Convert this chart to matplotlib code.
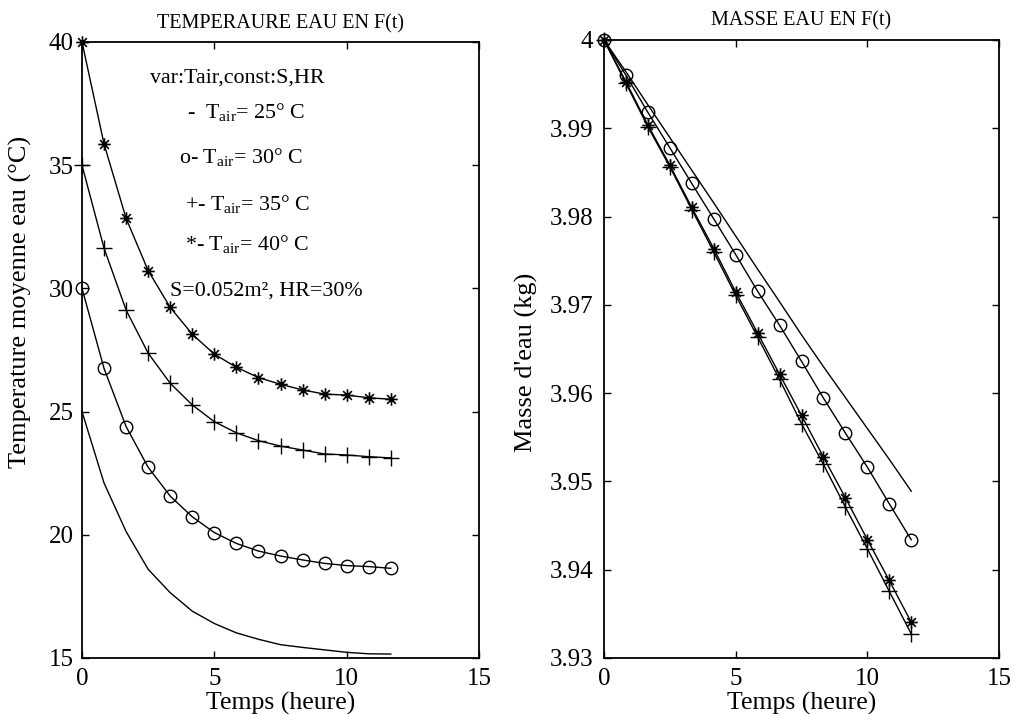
import matplotlib
matplotlib.use("Agg")
import matplotlib.pyplot as plt
from matplotlib.path import Path
from matplotlib.ticker import FuncFormatter

# ---------------- data ----------------
t_hours = [0.0, 0.833, 1.667, 2.5, 3.333, 4.167, 5.0, 5.833, 6.667, 7.5,
           8.333, 9.167, 10.0, 10.833, 11.667]

temp_25 = [25.0, 22.1, 20.13, 18.6, 17.65, 16.9, 16.4, 16.02, 15.76, 15.54,
           15.43, 15.33, 15.23, 15.17, 15.16]
temp_30 = [30.0, 26.75, 24.39, 22.74, 21.57, 20.73, 20.09, 19.65, 19.34, 19.14,
           18.98, 18.84, 18.75, 18.71, 18.64]
temp_35 = [35.0, 31.63, 29.12, 27.37, 26.15, 25.27, 24.59, 24.14, 23.82, 23.60,
           23.44, 23.28, 23.24, 23.17, 23.12]
temp_40 = [40.0, 35.86, 32.84, 30.72, 29.23, 28.14, 27.33, 26.80, 26.38, 26.11,
           25.88, 25.71, 25.67, 25.56, 25.50]

mass_25 = [4.0, 3.9964, 3.99265, 3.98895, 3.98525, 3.98155, 3.9778, 3.97405,
           3.97035, 3.9666, 3.963, 3.9595, 3.956, 3.9525, 3.9489]
mass_30 = [4.0, 3.9960, 3.9918, 3.98779, 3.98375, 3.97974, 3.9757, 3.97154,
           3.96769, 3.96361, 3.95944, 3.95548, 3.95162, 3.94747, 3.94339]
mass_35 = [4.0, 3.99509, 3.99017, 3.98564, 3.9808, 3.976, 3.97109, 3.96636,
           3.96156, 3.95654, 3.95193, 3.94709, 3.94237, 3.93756, 3.93273]
mass_40 = [4.0, 3.99527, 3.99036, 3.98583, 3.98103, 3.97638, 3.97147, 3.96681,
           3.96213, 3.95748, 3.95276, 3.94815, 3.94342, 3.93878, 3.93405]

x_ticks = [0, 5, 10, 15]
temp_ticks = [15, 20, 25, 30, 35, 40]
mass_ticks = [3.93, 3.94, 3.95, 3.96, 3.97, 3.98, 3.99, 4.0]

title_left = "TEMPERAURE EAU EN F(t)"
title_right = "MASSE EAU EN F(t)"
xlabel = "Temps (heure)"
ylabel_left = "Temperature moyenne eau (°C)"
ylabel_right = "Masse d'eau (kg)"
legend_lines = ["var:Tair,const:S,HR",
                r"-  $\mathrm{T_{air}}$= 25° C",
                r"o- $\mathrm{T_{air}}$= 30° C",
                r"+- $\mathrm{T_{air}}$= 35° C",
                r"*- $\mathrm{T_{air}}$= 40° C",
                "S=0.052m², HR=30%"]

# ---------------- style ----------------
plt.rcParams['font.family'] = ['Liberation Serif', 'DejaVu Serif']
plt.rcParams['mathtext.fontset'] = 'custom'
plt.rcParams['mathtext.rm'] = 'Liberation Serif'
plt.rcParams['mathtext.it'] = 'Liberation Serif:italic'
plt.rcParams['mathtext.bf'] = 'Liberation Serif:bold'

ast = Path([(-1, 0), (1, 0), (0, -1), (0, 1),
            (-0.7, -0.7), (0.7, 0.7), (-0.7, 0.7), (0.7, -0.7)],
           [Path.MOVETO, Path.LINETO] * 4)

fig = plt.figure(figsize=(10.14, 7.15), dpi=100)
W, H = 1014, 715
axL = fig.add_axes([82 / W, 57 / H, 397 / W, 616 / H])
axR = fig.add_axes([604 / W, 57 / H, 395 / W, 618 / H])

lw = 1.0
ms = 9
common = dict(color='black', lw=lw, clip_on=False)

# left panel
axL.plot(t_hours, temp_25, **common)
axL.plot(t_hours, temp_30, marker='o', ms=ms, mfc='none', mec='black', mew=1, **common)
axL.plot(t_hours, temp_35, marker='+', ms=ms + 3, mew=1, **common)
axL.plot(t_hours, temp_40, marker=ast, ms=ms, mfc='none', mec='black', mew=1.2, **common)

# right panel
axR.plot(t_hours, mass_25, **common)
axR.plot(t_hours, mass_30, marker='o', ms=ms, mfc='none', mec='black', mew=1, **common)
axR.plot(t_hours, mass_35, marker='+', ms=ms + 3, mew=1, **common)
axR.plot(t_hours, mass_40, marker=ast, ms=ms, mfc='none', mec='black', mew=1.2, **common)

for ax in (axL, axR):
    ax.set_xlim(0, 15)
    ax.set_xticks(x_ticks)
    ax.tick_params(direction='in', top=True, right=True, length=5, width=1,
                   labelsize=18)
    ax.tick_params(axis='x', pad=7)
    for sp in ax.spines.values():
        sp.set_linewidth(1.3)
    ax.set_xlabel(xlabel, fontsize=18.5)
    ax.xaxis.set_label_coords(0.5, -0.055)

axL.set_ylim(15, 40)
axL.set_yticks(temp_ticks)
axL.tick_params(axis='y', pad=6)
axR.set_ylim(3.93, 4.0)
axR.set_yticks(mass_ticks)
axR.yaxis.set_major_formatter(FuncFormatter(lambda v, p: f"{v:g}"))
axR.tick_params(axis='y', pad=8)

axL.set_ylabel(ylabel_left, fontsize=19)
axL.yaxis.set_label_coords(-0.125, 0.578)
axR.set_ylabel(ylabel_right, fontsize=19)
axR.yaxis.set_label_coords(-0.168, 0.479)

axL.set_title(title_left, fontsize=14.5, pad=10)
axR.set_title(title_right, fontsize=14.5, pad=10.5)

# annotation block (data coords)
ann_x = [2.57, 3.97, 3.67, 3.89, 3.89, 3.33]
ann_y = [38.34, 36.92, 35.09, 33.18, 31.56, 29.73]
for s, xx, yy in zip(legend_lines, ann_x, ann_y):
    axL.text(xx, yy, s, fontsize=15.8, ha='left', va='baseline')

fig.savefig("out.png", dpi=100)
